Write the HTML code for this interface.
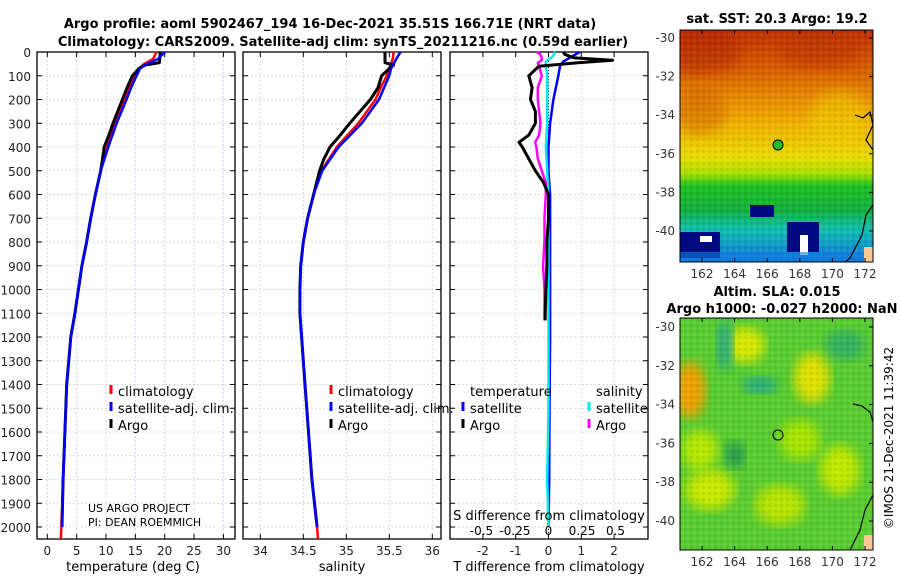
<!DOCTYPE html>
<html><head><meta charset="utf-8">
<style>
html,body{margin:0;padding:0;background:#fff;}
body{width:900px;height:580px;overflow:hidden;font-family:"DejaVu Sans","Liberation Sans",sans-serif;}
svg text{font-family:"DejaVu Sans","Liberation Sans",sans-serif;}
</style></head><body>
<svg id="fig" width="900" height="580" viewBox="0 0 900 580" xmlns="http://www.w3.org/2000/svg">
<defs>
<linearGradient id="sstg" x1="0" y1="0" x2="0" y2="1">
<stop offset="0" stop-color="#c03000"/><stop offset="0.15" stop-color="#d45800"/>
<stop offset="0.3" stop-color="#e88c00"/><stop offset="0.42" stop-color="#f0b400"/>
<stop offset="0.55" stop-color="#e8dc00"/><stop offset="0.62" stop-color="#a8e000"/>
<stop offset="0.67" stop-color="#20c020"/><stop offset="0.78" stop-color="#10b040"/>
<stop offset="0.86" stop-color="#10c0b0"/><stop offset="1" stop-color="#1070e0"/></linearGradient>
<filter id="blur"><feGaussianBlur stdDeviation="6"/></filter>
<pattern id="noise" width="6" height="6" patternUnits="userSpaceOnUse">
<rect x="0" y="0" width="3" height="3" fill="#000" opacity="0.06"/><rect x="3" y="3" width="3" height="3" fill="#fff" opacity="0.06"/>
</pattern>
<clipPath id="c1"><rect x="680" y="30" width="193" height="232"/></clipPath>
<clipPath id="c2"><rect x="680" y="318" width="193" height="232"/></clipPath>
</defs>
<text x="330" y="28" font-size="13" font-weight="bold" text-anchor="middle">Argo profile: aoml 5902467_194 16-Dec-2021 35.51S 166.71E (NRT data)</text>
<text x="343" y="46" font-size="13" font-weight="bold" text-anchor="middle">Climatology: CARS2009. Satellite-adj clim: synTS_20211216.nc (0.59d earlier)</text>
<g id="panels"></g>
<!-- SST map -->
<g>
<g clip-path="url(#c1)">
<rect x="680" y="30" width="193" height="232" fill="url(#sstg)"/>
<ellipse cx="700" cy="50" rx="40" ry="25" fill="#b02000" opacity="0.5" filter="url(#blur)"/>
<ellipse cx="820" cy="50" rx="40" ry="18" fill="#b83000" opacity="0.5" filter="url(#blur)"/>
<ellipse cx="700" cy="110" rx="25" ry="25" fill="#d06000" opacity="0.5" filter="url(#blur)"/>
<ellipse cx="840" cy="120" rx="30" ry="30" fill="#f0d000" opacity="0.5" filter="url(#blur)"/>
<rect x="680" y="30" width="193" height="232" fill="url(#noise)"/>
<rect x="750" y="205" width="24" height="12" fill="#000a80"/>
<rect x="787" y="222" width="32" height="30" fill="#000a80"/>
<rect x="800" y="235" width="8" height="20" fill="#fff"/>
<rect x="680" y="232" width="40" height="26" fill="#000a80"/>
<rect x="700" y="236" width="12" height="6" fill="#fff"/>
<rect x="680" y="252" width="193" height="10" fill="#1080e0" opacity="0.6"/>
<path d="M855 115 L863 118 L870 112 L873 125 L866 140 L873 150" stroke="#000" fill="none" stroke-width="1.2"/>
<path d="M873 205 L866 215 L862 235 L850 258 L845 262" stroke="#000" fill="none" stroke-width="1.2"/>
<rect x="864" y="247" width="9" height="15" fill="#f8c898"/>
</g>
<rect x="680" y="30" width="193" height="232" fill="none" stroke="#000" stroke-width="1"/>
<circle cx="778" cy="145" r="5" fill="#20c020" stroke="#000"/>
</g>
<text x="777" y="23" font-size="13" font-weight="bold" text-anchor="middle">sat. SST: 20.3 Argo: 19.2</text>
<!-- SLA map -->
<g>
<g clip-path="url(#c2)">
<rect x="680" y="318" width="193" height="232" fill="#58cc30"/>
<ellipse cx="690" cy="390" rx="16" ry="28" fill="#f0a000" filter="url(#blur)"/>
<ellipse cx="745" cy="345" rx="20" ry="18" fill="#d8e800" filter="url(#blur)"/>
<ellipse cx="725" cy="345" rx="8" ry="25" fill="#20a888" filter="url(#blur)"/>
<ellipse cx="760" cy="385" rx="18" ry="8" fill="#20a888" filter="url(#blur)"/>
<ellipse cx="845" cy="345" rx="20" ry="15" fill="#30b060" filter="url(#blur)"/>
<ellipse cx="812" cy="378" rx="18" ry="25" fill="#e0e000" filter="url(#blur)"/>
<ellipse cx="700" cy="450" rx="18" ry="20" fill="#b8e800" filter="url(#blur)"/>
<ellipse cx="800" cy="440" rx="20" ry="20" fill="#a8e400" filter="url(#blur)"/>
<ellipse cx="710" cy="490" rx="25" ry="20" fill="#c8e800" filter="url(#blur)"/>
<ellipse cx="780" cy="505" rx="25" ry="20" fill="#b8e400" filter="url(#blur)"/>
<ellipse cx="840" cy="470" rx="20" ry="25" fill="#c0e800" filter="url(#blur)"/>
<ellipse cx="735" cy="455" rx="10" ry="13" fill="#209850" filter="url(#blur)"/>
<rect x="680" y="318" width="193" height="232" fill="url(#noise)"/>
<path d="M853 404 L862 406 L870 412 L873 422" stroke="#000" fill="none" stroke-width="1.2"/>
<path d="M873 495 L865 510 L860 530 L850 550" stroke="#000" fill="none" stroke-width="1.2"/>
<rect x="864" y="535" width="9" height="15" fill="#f8c898"/>
</g>
<rect x="680" y="318" width="193" height="232" fill="none" stroke="#000" stroke-width="1"/>
<circle cx="778" cy="435" r="5" fill="none" stroke="#000"/>
</g>
<text x="777" y="296" font-size="13" font-weight="bold" text-anchor="middle">Altim. SLA: 0.015</text>
<text x="782" y="313" font-size="13" font-weight="bold" text-anchor="middle">Argo h1000: -0.027 h2000: NaN</text>
<text transform="translate(893,438) rotate(-90)" font-size="12" text-anchor="middle">©IMOS 21-Dec-2021 11:39:42</text>
<g id="maps"></g>
</svg>
<script>
// ---- data ----
const depthLevels = [0,30,50,70,100,150,200,300,400,500,600,700,800,900,1000,1100,1200,1400,1600,1800,2000,2050];
const tempClim = [18.6,18.0,16.5,15.6,14.9,14.0,13.3,11.6,10.2,9.1,8.2,7.4,6.7,5.9,5.3,4.7,4.0,3.3,3.0,2.7,2.4,2.3];
const tempSat  = [20.05,18.8,17.0,15.8,15.2,14.3,13.5,11.8,10.4,9.1,8.2,7.4,6.7,5.9,5.3,4.7,4.0,3.3,3.0,2.7,2.5,null];
const argoDepth = [0,20,45,55,70,100,150,200,300,350,400,450,500,600,700,800,900,1000,1100,1200,1400,1600,1800,2000];
const tempArgo = [19.2,19.2,19.1,16.6,15.6,14.5,13.6,12.8,11.2,10.5,9.7,9.4,9.1,8.2,7.4,6.7,5.9,5.3,4.7,4.0,3.3,3.0,2.7,2.5];
const salClim = [35.55,35.54,35.52,35.5,35.47,35.4,35.34,35.14,34.89,34.71,34.62,34.55,34.5,34.47,34.46,34.46,34.48,34.52,34.56,34.6,34.66,34.67];
const salSat  = [35.63,35.58,35.55,35.52,35.5,35.44,35.38,35.18,34.91,34.72,34.62,34.55,34.5,34.47,34.46,34.46,34.48,34.52,34.56,34.6,34.66,null];
const salArgo = [35.45,35.45,35.45,35.55,35.5,35.41,35.37,35.28,35.04,34.93,34.81,34.74,34.69,34.62,34.55,34.5,34.47,34.46,34.46,34.48,34.52,34.56,34.6,34.66];
const diffDepth = [0,10,25,35,45,60,100,150,200,250,300,350,380,400,450,500,550,600,700,800,900,1000,1100,1130];
const tDiffArgo = [0.45,0.5,0.8,1.95,0.9,-0.3,-0.6,-0.5,-0.55,-0.4,-0.4,-0.6,-0.9,-0.8,-0.6,-0.4,-0.15,0,0,-0.05,-0.05,-0.08,-0.1,-0.1];
const sDiffArgo = [-0.09,-0.06,-0.05,-0.05,-0.08,-0.07,-0.05,-0.08,-0.08,-0.07,-0.06,-0.07,-0.1,-0.09,-0.08,-0.05,-0.02,-0.02,-0.03,-0.03,-0.04,-0.03,-0.03,-0.03];
const satDiffDepth = [0,20,40,60,100,200,300,400,500,600,800,1000,1200,1500,1800,2000];
const tDiffSat = [0.95,0.7,0.45,0.35,0.3,0.15,0.05,0.0,0.0,0.05,0.05,0.05,0.05,0.03,0.02,0.0];
const sDiffSat = [0.05,0.03,-0.02,-0.02,-0.01,-0.01,-0.01,-0.02,-0.01,0.0,0.0,0.0,0.0,0.0,-0.01,0.0];
const depthTicks = [0,100,200,300,400,500,600,700,800,900,1000,1100,1200,1300,1400,1500,1600,1700,1800,1900,2000];
const tempTicks = [0,5,10,15,20,25,30];
const salTicks = [34,34.5,35,35.5,36];
const salTickLabels = ["34","34.5","35","35.5","36"];
const tDiffTicks = [-2,-1,0,1,2];
const sDiffTicks = [-0.5,-0.25,0,0.25,0.5];
const lonTicks = [162,164,166,168,170,172];
const latTicks = [-30,-32,-34,-36,-38,-40];

// ---- axes ----
const NS = "http://www.w3.org/2000/svg";
const yTop = 52, yBot = 539;
const yD = d => yTop + d * 0.2375;
const xT = v => 47.3 + v * 5.87;
const xS = v => 260.3 + (v - 34) * 86;
const xTD = v => 548.5 + v * 32.8;
const xSD = v => 548.5 + v * 134;
const lonX = v => 702 + (v - 162) * 16.3;
const latY1 = v => 38 + (-30 - v) * 19.3;
const latY2 = v => 327 + (-30 - v) * 19.4;
const G = document.getElementById('panels');
function el(tag, attrs, parent) {
  const e = document.createElementNS(NS, tag);
  for (const k in attrs) e.setAttribute(k, attrs[k]);
  (parent || G).appendChild(e);
  return e;
}
function txt(x, y, s, size, anchor, parent) {
  const t = el('text', {x: x, y: y, 'font-size': size, 'text-anchor': anchor || 'middle'}, parent);
  t.textContent = s;
  return t;
}
function panel(x0, x1, xticks, xf, labels, name) {
  const g = el('g', {});
  
  
  depthTicks.forEach(d => {
    el('line', {x1: x0, x2: x1, y1: yD(d), y2: yD(d), stroke: '#c8cce8', 'stroke-dasharray': '2,2', 'stroke-width': 0.8}, g);
    el('line', {x1: x0, x2: x0 + 5, y1: yD(d), y2: yD(d), stroke: '#000'}, g);
    el('line', {x1: x1 - 5, x2: x1, y1: yD(d), y2: yD(d), stroke: '#000'}, g);
  });
  xticks.forEach((v, i) => {
    const x = xf(v);
    el('line', {x1: x, x2: x, y1: yTop, y2: yBot, stroke: '#c8cce8', 'stroke-dasharray': '2,2', 'stroke-width': 0.8}, g);
    el('line', {x1: x, x2: x, y1: yBot, y2: yBot - 5, stroke: '#000'}, g);
    el('line', {x1: x, x2: x, y1: yTop, y2: yTop + 5, stroke: '#000'}, g);
    const t = txt(x, 555, labels[i], 12, 'middle', g);
    t.setAttribute('fill', '#222');
  });
  el('rect', {x: x0, y: yTop, width: x1 - x0, height: yBot - yTop, fill: 'none', stroke: '#000', 'stroke-width': 1.3}, g);
  return g;
}
function line(depths, vals, xf, color, w, name, parent) {
  let d = '';
  depths.forEach((z, i) => { if (vals[i] !== null) d += (d ? 'L' : 'M') + xf(vals[i]).toFixed(1) + ' ' + yD(z).toFixed(1); });
  const p = el('path', {d: d, stroke: color, 'stroke-width': w, fill: 'none', 'stroke-linejoin': 'round'}, parent);
  
  
  return p;
}
function legendItem(x, y, color, label, parent, name) {
  const g = el('g', {}, parent);
  
  
  el('line', {x1: x, x2: x, y1: y - 11, y2: y - 2, stroke: color, 'stroke-width': 3}, g);
  txt(x + 7, y, label, 13, 'start', g);
}

// panel 1
const p1 = panel(37, 235, tempTicks, xT, tempTicks.map(String), 'temperature-panel');
depthTicks.forEach(d => { const t = txt(31, yD(d) + 5, String(d), 12, 'end', p1); t.setAttribute('fill', '#222'); });
line(depthLevels, tempClim, xT, '#f00', 2.5, 'temp-climatology-line', p1);
line(argoDepth, tempArgo, xT, '#000', 3, 'temp-argo-line', p1);
line(depthLevels, tempSat, xT, '#0000ff', 2.5, 'temp-satellite-line', p1);
txt(133, 571, 'temperature (deg C)', 13, 'middle', p1);
legendItem(111, 396, '#f00', 'climatology', p1, 'legend-climatology');
legendItem(111, 413, '#00f', 'satellite-adj. clim.', p1, 'legend-satellite');
legendItem(111, 430, '#000', 'Argo', p1, 'legend-argo');
txt(88, 512, 'US ARGO PROJECT', 11, 'start', p1);
txt(88, 526, 'PI: DEAN ROEMMICH', 11, 'start', p1);

// panel 2
const p2 = panel(243, 441, salTicks, xS, salTickLabels, 'salinity-panel');
line(depthLevels, salClim, xS, '#f00', 2.5, 'sal-climatology-line', p2);
line(argoDepth, salArgo, xS, '#000', 3, 'sal-argo-line', p2);
line(depthLevels, salSat, xS, '#0000ff', 2.5, 'sal-satellite-line', p2);
txt(342, 571, 'salinity', 13, 'middle', p2);
legendItem(331, 396, '#f00', 'climatology', p2, 'legend2-climatology');
legendItem(331, 413, '#00f', 'satellite-adj. clim.', p2, 'legend2-satellite');
legendItem(331, 430, '#000', 'Argo', p2, 'legend2-argo');

// panel 3
const p3 = panel(450, 648, tDiffTicks, xTD, tDiffTicks.map(String), 'difference-panel');
el('line', {x1: 548.5, x2: 548.5, y1: yTop, y2: yBot, stroke: '#000', 'stroke-dasharray': '1,2', 'stroke-width': 1}, p3);
line(satDiffDepth, tDiffSat, xTD, '#0000ff', 2.5, 'tdiff-satellite-line', p3);
line(satDiffDepth, sDiffSat, xSD, '#00e8f0', 2.5, 'sdiff-satellite-line', p3);
line(diffDepth, sDiffArgo, xSD, '#ff00ff', 2.5, 'sdiff-argo-line', p3);
line(diffDepth, tDiffArgo, xTD, '#000', 3, 'tdiff-argo-line', p3);
txt(549, 571, 'T difference from climatology', 13, 'middle', p3);
txt(549, 520, 'S difference from climatology', 13, 'middle', p3);
sDiffTicks.forEach(v => { txt(xSD(v), 535, String(v), 12, 'middle', p3); });
txt(470, 396, 'temperature', 13, 'start', p3);
txt(596, 396, 'salinity', 13, 'start', p3);
legendItem(463, 413, '#00f', 'satellite', p3, 'legend3-t-satellite');
legendItem(463, 430, '#000', 'Argo', p3, 'legend3-t-argo');
legendItem(589, 413, '#00e8f0', 'satellite', p3, 'legend3-s-satellite');
legendItem(589, 430, '#ff00ff', 'Argo', p3, 'legend3-s-argo');

// map ticks
const M = document.getElementById('maps');
[[30, 262, latY1], [318, 550, latY2]].forEach(([top, bot, ly]) => {
  lonTicks.forEach(v => {
    el('line', {x1: lonX(v), x2: lonX(v), y1: bot, y2: bot - 4, stroke: '#000'}, M);
    el('line', {x1: lonX(v), x2: lonX(v), y1: top, y2: top + 4, stroke: '#000'}, M);
    txt(lonX(v), bot + 16, String(v), 12, 'middle', M).setAttribute('fill', '#333');
  });
  latTicks.forEach(v => {
    el('line', {x1: 873, x2: 869, y1: ly(v), y2: ly(v), stroke: '#000'}, M);
    txt(675, ly(v) + 4, String(v), 12, 'end', M).setAttribute('fill', '#333');
  });
});
</script>
</body></html>
